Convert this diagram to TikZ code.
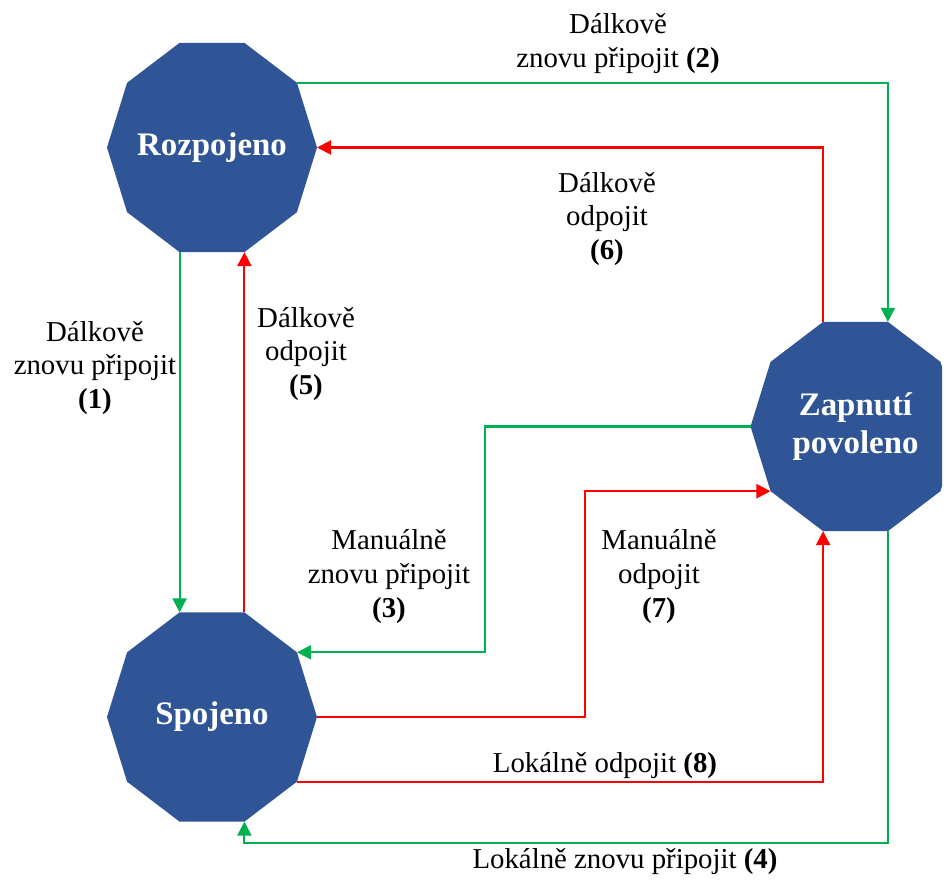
\documentclass[tikz,border=0pt]{standalone}
\usepackage{fontspec}
\setmainfont{Liberation Serif}
\usetikzlibrary{arrows.meta,calc}
\definecolor{stblue}{HTML}{2F5597}
\definecolor{gcol}{HTML}{00B050}
\definecolor{rcol}{HTML}{FF0000}
\pgfdeclarelayer{bg}
\pgfsetlayers{bg,main}
\begin{document}
\begin{tikzpicture}[x=0.02cm,y=-0.02cm,
  statefill/.style={fill=stblue},
  statetext/.style={text=white,font=\fontsize{18.7}{22.1}\selectfont\bfseries,align=center,inner sep=0pt},
  lbl/.style={font=\fontsize{16.4}{19.3}\selectfont,align=center,inner sep=0pt},
  conn/.style={line width=1.2pt,-{Triangle[length=8pt,width=8pt]}},
  gconn/.style={conn,draw=gcol,fill=none},
  rconn/.style={conn,draw=rcol,fill=none}]
\useasboundingbox (0,0) rectangle (949,888);

% states
\node[statetext] (R) at (212,147.5) {Rozpojeno};
\node[statetext] (S) at (212,717) {Spojeno};
\node[statetext] (Z) at (855.5,426.5) {Zapnutí\\povoleno};

\begin{pgfonlayer}{bg}
  \fill[statefill,shift={(R.center)}] (0:105 and 110) \foreach \a in {36,72,...,324} {-- (\a:105 and 110)} -- cycle;
  \fill[statefill,shift={(S.center)}] (0:105 and 110) \foreach \a in {36,72,...,324} {-- (\a:105 and 110)} -- cycle;
  \begin{scope}
    \clip (0,0) rectangle (942,888);
    \fill[statefill,shift={(Z.center)}] (0:105 and 110) \foreach \a in {36,72,...,324} {-- (\a:105 and 110)} -- cycle;
  \end{scope}
\end{pgfonlayer}

% connectors
\draw[gconn] ($(R)+(85,-64.7)$) -| ($(Z)+(32.4,-104.6)$);
\draw[rconn] ($(Z)+(-32.4,-104.6)$) |- ($(R)+(105,0)$);
\draw[gconn] ($(R)+(-32.4,104.6)$) -- ($(S)+(-32.4,-104.6)$);
\draw[rconn] ($(S)+(32.4,-104.6)$) -- ($(R)+(32.4,104.6)$);
\draw[gconn] ($(Z)+(-105,0)$) -| ($(S)+(85,-64.7)+(188,0)$) -- ($(S)+(85,-64.7)$);
\draw[rconn] ($(S)+(105,0)$) -| ($(Z)+(-85,64.7)+(-185.5,0)$) -- ($(Z)+(-85,64.7)$);
\draw[rconn] ($(S)+(85,64.7)$) -| ($(Z)+(-32.4,104.6)$);
\draw[gconn] ($(Z)+(32.4,104.6)$) -- ($(Z)+(32.4,416.5)$) -| ($(S)+(32.4,104.6)$);

% labels
\node[lbl] (L2) at (618,43.5) {Dálkově\\znovu připojit \textbf{(2)}};
\node[lbl] (L6) at (607,219) {Dálkově\\odpojit\\\textbf{(6)}};
\node[lbl] (L1) at (95,368) {Dálkově\\znovu připojit\\\textbf{(1)}};
\node[lbl] (L5) at (306,354) {Dálkově\\odpojit\\\textbf{(5)}};
\node[lbl] (L3) at (389,576.5) {Manuálně\\znovu připojit\\\textbf{(3)}};
\node[lbl] (L7) at (659,576.5) {Manuálně\\odpojit\\\textbf{(7)}};
\node[lbl,anchor=base] (L8) at (605,772) {Lokálně odpojit \textbf{(8)}};
\node[lbl,anchor=base] (L4) at (625,868) {Lokálně znovu připojit \textbf{(4)}};
\end{tikzpicture}
\end{document}
